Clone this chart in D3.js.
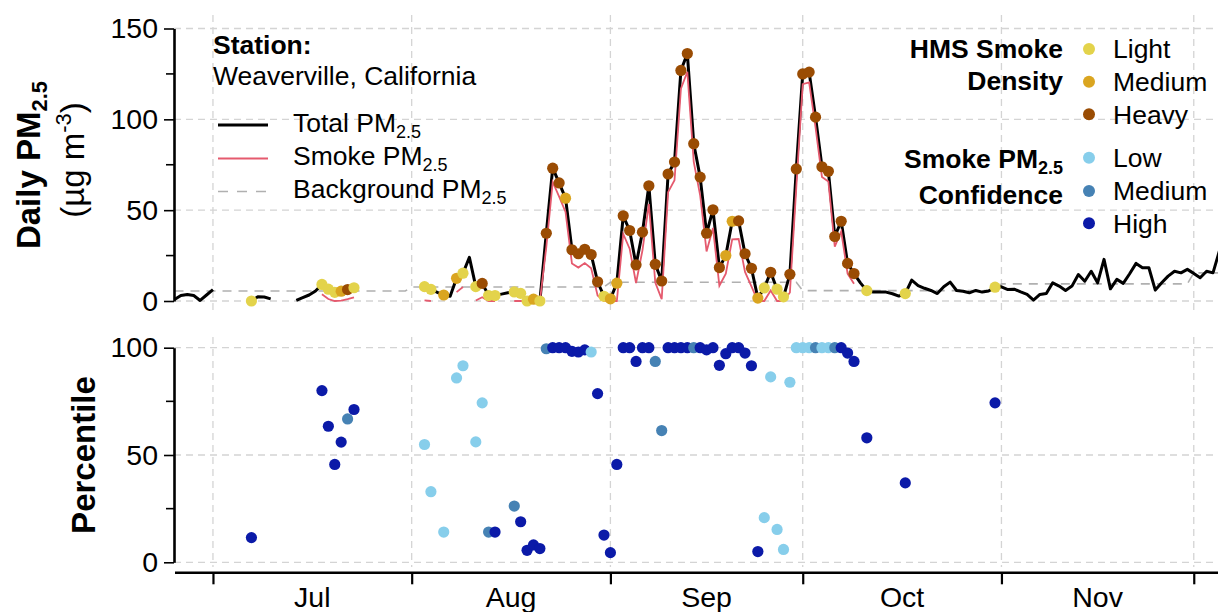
<!DOCTYPE html>
<html><head><meta charset="utf-8">
<script src="https://cdn.jsdelivr.net/npm/d3@7"></script>
<style>body{margin:0;background:#fff} svg{display:block;font-family:"Liberation Sans",Arial,Helvetica,sans-serif}</style>
</head><body><svg id="chart" width="1218" height="612"></svg>
<script>
// ---------------- DATA ----------------
const startDate = "2020-06-25", endDate = "2020-12-05";
// Daily total PM2.5 (null = no data)
const totalPM = [
  // Jun 25-30
  0.8, 3, 3.6, 3, 0.3, 3.3,
  // Jul
  6.3, null, null, null, null, null, 0, 2.3, 2.2, 1.2, null, null, null, 0.3, 1.8, 3.3, 5.5, 9.1, 6.5, 4.8, 5.4, 6.3, 7.3,
  null, null, null, null, null, null, null, null,
  // Aug
  null, null, 7.9, 6.4, 4.8, 3.3, 2.6, 12.5, 15.3, 24, 7.9, 9.7, 3, 3, 3.8, 4.5, 5, 4.2, 0, 1, 0, 37.3, 73.1, 65, 56.6,
  28.2, 26, 28.5, 25.6, 10.6, 2.6,
  // Sep
  1.2, 9.8, 46.9, 38.8, 19.9, 37.9, 63.4, 20.2, 11, 69.9, 76.5, 126.9, 136.2, 86.6, 68.2, 37.3, 50.2, 18.4, 25, 43.9,
  44.1, 26, 18, 1.6, 7.2, 15.8, 6.5, 2.3, 14.7, 72.7,
  // Oct
  125, 126, 101.2, 73.9, 71.4, 35.5, 43.9, 20.7, 15.1, 10, 5.7, 4.9, 5, 4.9, 4, 2.7, 4.1, 11.5, 8.5, 7, 5.8, 4.1, 7.8,
  10.4, 5.8, 5.4, 4.5, 5.8, 4.9, 5.5, 7.6,
  // Nov
  7.8, 6.3, 6.5, 5, 3.6, 0.5, 3.6, 4.1, 10, 8.2, 5.8, 8.2, 14.6, 10.9, 16.4, 10, 22.9, 6.7, 11.9, 9.7, 15, 20.7, 18.3,
  18.3, 6, 10, 13.7, 16.4, 15.5, 17.4,
  // Dec 1-5
  15.2, 12.8, 16.4, 15.5, 27.5
];
// Background PM2.5 by month
const bgMonths = ["2020-06", "2020-07", "2020-08", "2020-09", "2020-10", "2020-11", "2020-12"];
const bgValues = [5.5, 5.5, 7.7, 10.3, 5.7, 9.4, 15.5];

// Smoke days (HMS smoke present)
const smokeDates = [
  "2020-07-07", "2020-07-18", "2020-07-19", "2020-07-20", "2020-07-21", "2020-07-22", "2020-07-23",
  "2020-08-03", "2020-08-04", "2020-08-06", "2020-08-08", "2020-08-09", "2020-08-11", "2020-08-12", "2020-08-13", "2020-08-14",
  "2020-08-17", "2020-08-18", "2020-08-19", "2020-08-20", "2020-08-21", "2020-08-22", "2020-08-23", "2020-08-24", "2020-08-25",
  "2020-08-26", "2020-08-27", "2020-08-28", "2020-08-29", "2020-08-30", "2020-08-31",
  "2020-09-01", "2020-09-02", "2020-09-03", "2020-09-04", "2020-09-05", "2020-09-06", "2020-09-07", "2020-09-08", "2020-09-09",
  "2020-09-10", "2020-09-11", "2020-09-12", "2020-09-13", "2020-09-14", "2020-09-15", "2020-09-16", "2020-09-17", "2020-09-18",
  "2020-09-19", "2020-09-20", "2020-09-21", "2020-09-22", "2020-09-23", "2020-09-24", "2020-09-25", "2020-09-26", "2020-09-27",
  "2020-09-28", "2020-09-29", "2020-09-30",
  "2020-10-01", "2020-10-02", "2020-10-03", "2020-10-04", "2020-10-05", "2020-10-06", "2020-10-07", "2020-10-08", "2020-10-09",
  "2020-10-11", "2020-10-17", "2020-10-31"
];
const hmsDensity = [
  "Light", "Light", "Light", "Light", "Medium", "Heavy", "Light",
  "Light", "Light", "Medium", "Medium", "Light", "Light", "Heavy", "Light", "Light",
  "Light", "Light", "Light", "Medium", "Light", "Heavy", "Heavy", "Heavy", "Medium",
  "Heavy", "Heavy", "Heavy", "Heavy", "Heavy", "Light",
  "Medium", "Medium", "Heavy", "Heavy", "Heavy", "Heavy", "Heavy", "Heavy", "Heavy",
  "Heavy", "Heavy", "Heavy", "Heavy", "Heavy", "Heavy", "Heavy", "Heavy", "Heavy",
  "Medium", "Medium", "Heavy", "Heavy", "Heavy", "Medium", "Light", "Heavy", "Light",
  "Light", "Heavy", "Heavy",
  "Heavy", "Heavy", "Heavy", "Heavy", "Heavy", "Heavy", "Heavy", "Heavy", "Heavy",
  "Light", "Light", "Light"
];
const smokePM = [
  0, 3.7, 1.1, 0, 0.2, 1, 2,
  0.3, 0, 0, 4.9, 7.7, 0.3, 2.1, 0, 0,
  0, 0, 0, 0, 0, 29.7, 65.5, 57.4, 49,
  20.6, 18.4, 20.9, 18, 3, 0,
  0, 0, 36.9, 28.8, 9.9, 27.9, 53.4, 10.2, 1,
  59.9, 66.5, 116.9, 126.2, 76.6, 58.2, 27.3, 40.2, 8.4,
  15, 33.9, 34.1, 16, 8, 0, 0, 5.8, 0,
  0, 4.7, 62.7,
  119.4, 120.4, 95.6, 68.3, 65.8, 29.9, 38.3, 15.1, 9.5,
  0.1, 0, 2
];
const percentile = [
  11.5, 80, 63.4, 45.6, 56, 66.8, 71.2,
  54.9, 32.9, 14.1, 85.9, 91.6, 56.1, 74.3, 14.1, 14.1,
  26.2, 18.9, 5.6, 8.1, 6.4, 99.5, 100, 100, 100,
  98.3, 98, 99, 98, 78.6, 12.7,
  4.5, 45.6, 100, 100, 93.6, 100, 100, 93.6, 61.4,
  100, 100, 100, 100, 100, 100, 99, 100, 91.8,
  97.2, 100, 100, 97.5, 91.6, 5, 20.8, 86.4, 15.3,
  6, 83.9, 100,
  100, 100, 100, 100, 100, 100, 100, 97.5, 93.6,
  58, 37, 74.3
];
const confidence = [
  "High", "High", "High", "High", "High", "Medium", "High",
  "Low", "Low", "Low", "Low", "Low", "Low", "Low", "Medium", "High",
  "Medium", "High", "High", "High", "High", "Medium", "High", "High", "High",
  "High", "High", "High", "Low", "High", "High",
  "High", "High", "High", "High", "High", "High", "High", "Medium", "Medium",
  "High", "High", "High", "High", "Medium", "High", "High", "High", "High",
  "High", "High", "High", "High", "High", "High", "Low", "Low", "Low",
  "Low", "Low", "Low",
  "Low", "Low", "Medium", "Low", "Low", "Medium", "High", "High", "High",
  "High", "High", "High"
];
const monthTicks = ["2020-07-01", "2020-08-01", "2020-09-01", "2020-10-01", "2020-11-01", "2020-12-01"];
const monthLabels = ["Jul", "Aug", "Sep", "Oct", "Nov"];
const topTicks = [0, 50, 100, 150], topMinor = [25, 75, 125];
const botTicks = [0, 50, 100], botMinor = [25, 75];
const densityLevels = ["Light", "Medium", "Heavy"];
const confLevels = ["Low", "Medium", "High"];

// ---------------- STYLE ----------------
const densityColor = d3.scaleOrdinal(densityLevels, ["#E3D34B", "#DAA520", "#9A4C03"]);
const confColor = d3.scaleOrdinal(confLevels, ["#87CEEB", "#4682B4", "#0B1AA8"]);
const RED = "#E55A6E", GRID = "#d4d4d4", BG = "#b0b0b0";

const parse = d3.timeParse("%Y-%m-%d");
const fmtDay = d3.timeFormat("%Y-%m-%d"), fmtMonth = d3.timeFormat("%Y-%m");
const days = d3.timeDay.range(parse(startDate), d3.timeDay.offset(parse(endDate), 1));
const bgMap = new Map(bgMonths.map((m, i) => [m, bgValues[i]]));
const totalMap = new Map(days.map((d, i) => [fmtDay(d), totalPM[i]]));
const smokeMap = new Map(smokeDates.map((s, i) => [s, smokePM[i]]));

const svg = d3.select("#chart");
const x = d3.scaleTime().domain([parse(startDate), parse(endDate)]).range([174.5, 1219.4]);
const yT = d3.scaleLinear().domain([0, 150]).range([301, 28.5]);
const yB = d3.scaleLinear().domain([0, 100]).range([562.3, 347.7]);
const XL = 174, XR = 1218;

// ---------------- GRID ----------------
const grid = svg.append("g").attr("stroke", GRID).attr("stroke-width", 1.3).attr("stroke-dasharray", "7,5").attr("fill", "none");
topTicks.forEach(v => grid.append("line").attr("x1", XL).attr("x2", XR).attr("y1", yT(v)).attr("y2", yT(v)));
botTicks.forEach(v => grid.append("line").attr("x1", XL).attr("x2", XR).attr("y1", yB(v)).attr("y2", yB(v)));
monthTicks.forEach(m => {
  const xx = x(parse(m));
  grid.append("line").attr("x1", xx).attr("x2", xx).attr("y1", 15).attr("y2", 313);
  grid.append("line").attr("x1", xx).attr("x2", xx).attr("y1", 337).attr("y2", 567);
});

// ---------------- TOP PANEL ----------------
const series = days.map((d, i) => ({date: d, total: totalPM[i], bg: bgMap.get(fmtMonth(d)),
  smoke: smokeMap.has(fmtDay(d)) ? smokeMap.get(fmtDay(d)) : null}));

svg.append("path").datum(series).attr("fill", "none").attr("stroke", BG).attr("stroke-width", 1.6)
  .attr("stroke-dasharray", "9,7")
  .attr("d", d3.line().x(d => x(d.date)).y(d => yT(d.bg)));
svg.append("path").datum(series).attr("fill", "none").attr("stroke", "#000").attr("stroke-width", 3)
  .attr("stroke-linejoin", "round")
  .attr("d", d3.line().defined(d => d.total != null).x(d => x(d.date)).y(d => yT(d.total)));
svg.append("path").datum(series).attr("fill", "none").attr("stroke", RED).attr("stroke-width", 1.8)
  .attr("d", d3.line().defined(d => d.smoke != null).x(d => x(d.date)).y(d => yT(d.smoke)));

svg.append("g").selectAll("circle").data(smokeDates).join("circle")
  .attr("cx", s => x(parse(s))).attr("cy", s => yT(totalMap.get(s))).attr("r", 5.6)
  .attr("fill", (s, i) => densityColor(hmsDensity[i]));

// ---------------- BOTTOM PANEL ----------------
svg.append("g").selectAll("circle").data(smokeDates).join("circle")
  .attr("cx", s => x(parse(s))).attr("cy", (s, i) => yB(percentile[i])).attr("r", 5.6)
  .attr("fill", (s, i) => confColor(confidence[i]));

// ---------------- AXES ----------------
function yAxis(scale, major, minor) {
  const g = svg.append("g").attr("transform", `translate(${XL},0)`);
  g.call(d3.axisLeft(scale).tickValues(major).tickSize(10).tickSizeOuter(0).tickPadding(6).tickFormat(d3.format("d")));
  g.call(a => a.select(".domain").attr("stroke-width", 2.6));
  g.selectAll(".tick line").attr("stroke-width", 1.6);
  g.selectAll(".tick text").attr("font-size", 28.5).attr("font-family", "Liberation Sans, Arial, sans-serif").attr("fill", "#000");
  const m = svg.append("g").attr("transform", `translate(${XL},0)`);
  minor.forEach(v => m.append("line").attr("x1", -8).attr("x2", 0).attr("y1", scale(v)).attr("y2", scale(v))
    .attr("stroke", "#000").attr("stroke-width", 1.6));
}
yAxis(yT, topTicks, topMinor);
yAxis(yB, botTicks, botMinor);

const xa = svg.append("g").attr("transform", "translate(0,572.3)");
xa.call(d3.axisBottom(x).tickValues(monthTicks.map(parse)).tickSize(12).tickSizeOuter(0).tickFormat(""));
xa.select(".domain").attr("stroke-width", 2.6);
xa.selectAll(".tick line").attr("stroke-width", 2.2);
monthLabels.forEach((lab, i) => {
  const a = parse(monthTicks[i]), b = parse(monthTicks[i + 1]);
  svg.append("text").attr("x", (x(a) + x(b)) / 2).attr("y", 607).attr("text-anchor", "middle")
    .attr("font-size", 28.5).text(lab);
});

// Axis titles
const AT = 33;
const t1 = svg.append("text").attr("transform", "translate(40,165) rotate(-90)").attr("text-anchor", "middle")
  .attr("font-size", AT).attr("font-weight", "bold");
t1.append("tspan").text("Daily PM");
t1.append("tspan").attr("font-size", 22).attr("dy", 7).text("2.5");
const t2 = svg.append("text").attr("transform", "translate(84,160) rotate(-90)").attr("text-anchor", "middle")
  .attr("font-size", AT);
t2.append("tspan").text("(µg m");
t2.append("tspan").attr("font-size", 22).attr("dy", -13).text("-3");
t2.append("tspan").attr("dy", 13).text(")");
svg.append("text").attr("transform", `translate(95,${(yB(0) + yB(100)) / 2}) rotate(-90)`).attr("text-anchor", "middle")
  .attr("font-size", AT).attr("font-weight", "bold").text("Percentile");

// ---------------- LEGENDS ----------------
const LF = 26.5;
svg.append("text").attr("x", 213).attr("y", 54).attr("font-size", LF).attr("font-weight", "bold").text("Station:");
svg.append("text").attr("x", 213).attr("y", 85).attr("font-size", LF).text("Weaverville, California");
const lineKeys = [
  {name: "Total PM", y: 125, stroke: "#000", w: 3, dash: null},
  {name: "Smoke PM", y: 158.5, stroke: RED, w: 1.8, dash: null},
  {name: "Background PM", y: 191.5, stroke: BG, w: 1.6, dash: "10,9"}
];
lineKeys.forEach(k => {
  svg.append("line").attr("x1", 218).attr("x2", 268).attr("y1", k.y).attr("y2", k.y)
    .attr("stroke", k.stroke).attr("stroke-width", k.w).attr("stroke-dasharray", k.dash);
  const t = svg.append("text").attr("x", 293).attr("y", k.y + 6.5).attr("font-size", LF);
  t.append("tspan").text(k.name);
  t.append("tspan").attr("font-size", 18).attr("dy", 6).text("2.5");
});

const RX = 1063, DX = 1089, LX = 1113;
svg.append("text").attr("x", RX).attr("y", 58).attr("text-anchor", "end").attr("font-size", LF).attr("font-weight", "bold").text("HMS Smoke");
svg.append("text").attr("x", RX).attr("y", 90).attr("text-anchor", "end").attr("font-size", LF).attr("font-weight", "bold").text("Density");
const dY = [49, 81.7, 114.3];
densityLevels.forEach((lv, i) => {
  svg.append("circle").attr("cx", DX).attr("cy", dY[i]).attr("r", 6).attr("fill", densityColor(lv));
  svg.append("text").attr("x", LX).attr("y", dY[i] + 9.3).attr("font-size", LF).text(lv);
});
const st = svg.append("text").attr("x", RX).attr("y", 168).attr("text-anchor", "end").attr("font-size", LF).attr("font-weight", "bold");
st.append("tspan").text("Smoke PM");
st.append("tspan").attr("font-size", 18).attr("dy", 6).text("2.5");
svg.append("text").attr("x", RX).attr("y", 203.5).attr("text-anchor", "end").attr("font-size", LF).attr("font-weight", "bold").text("Confidence");
const cY = [157.7, 191, 223.3];
confLevels.forEach((lv, i) => {
  svg.append("circle").attr("cx", DX).attr("cy", cY[i]).attr("r", 6).attr("fill", confColor(lv));
  svg.append("text").attr("x", LX).attr("y", cY[i] + 9.3).attr("font-size", LF).text(lv);
});
</script></body></html>
